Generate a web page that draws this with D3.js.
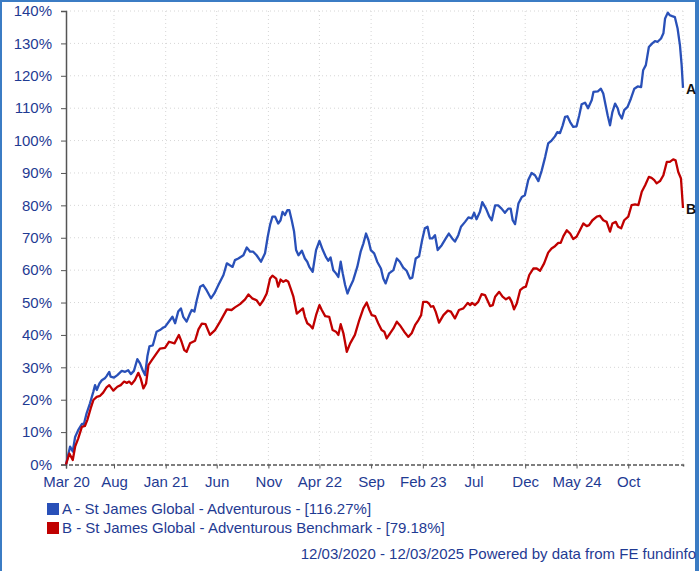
<!DOCTYPE html>
<html>
<head>
<meta charset="utf-8">
<script src="https://cdn.jsdelivr.net/npm/d3@7"></script>
<style>
  body { margin: 0; background: #fff; }
  svg { display: block; font-family: "Liberation Sans", Arial, sans-serif; }
</style>
</head>
<body>
<div id="chart"></div>
<script>
// St James Global - Adventurous (A)
const datesA = ["2020-03-12","2020-03-24","2020-04-01","2020-04-08","2020-04-17","2020-04-28","2020-05-04","2020-05-12","2020-05-22","2020-06-01",
  "2020-06-06","2020-06-11","2020-06-19","2020-06-26","2020-07-05","2020-07-10","2020-07-18","2020-07-22","2020-08-01","2020-08-11",
  "2020-08-24","2020-09-03","2020-09-12","2020-09-20","2020-09-29","2020-10-09","2020-10-17","2020-10-25","2020-11-01","2020-11-08",
  "2020-11-14","2020-11-24","2020-12-05","2020-12-15","2020-12-25","2020-12-30","2021-01-14","2021-01-21","2021-01-29","2021-02-07",
  "2021-02-15","2021-02-22","2021-03-04","2021-03-14","2021-03-19","2021-03-27","2021-04-03","2021-04-13","2021-04-22","2021-05-02",
  "2021-05-15","2021-05-25","2021-06-06","2021-06-21","2021-07-01","2021-07-10","2021-07-18","2021-07-25","2021-08-04","2021-08-19",
  "2021-08-29","2021-09-08","2021-09-17","2021-09-27","2021-10-10","2021-10-22","2021-10-30","2021-11-06","2021-11-13","2021-11-21",
  "2021-11-30","2021-12-07","2021-12-13","2021-12-20","2021-12-27","2022-01-02","2022-01-09","2022-01-16","2022-01-22","2022-01-29",
  "2022-02-08","2022-02-17","2022-02-24","2022-03-02","2022-03-12","2022-03-22","2022-04-01","2022-04-11","2022-04-20","2022-04-27",
  "2022-05-04","2022-05-12","2022-05-20","2022-05-27","2022-06-03","2022-06-09","2022-06-16","2022-06-23","2022-07-01","2022-07-10",
  "2022-07-22","2022-08-01","2022-08-09","2022-08-17","2022-08-24","2022-08-31","2022-09-10","2022-09-19","2022-09-30","2022-10-07",
  "2022-10-14","2022-10-24","2022-11-06","2022-11-16","2022-11-25","2022-12-05","2022-12-15","2022-12-25","2023-01-01","2023-01-11",
  "2023-01-21","2023-01-30","2023-02-07","2023-02-15","2023-02-22","2023-03-01","2023-03-09","2023-03-17","2023-03-29","2023-04-10",
  "2023-04-19","2023-04-29","2023-05-07","2023-05-17","2023-05-25","2023-06-06","2023-06-16","2023-06-26","2023-07-03","2023-07-10",
  "2023-07-20","2023-07-27","2023-08-07","2023-08-17","2023-08-24","2023-09-03","2023-09-12","2023-09-22","2023-10-02","2023-10-12",
  "2023-10-19","2023-10-25","2023-11-01","2023-11-11","2023-11-21","2023-11-30","2023-12-10","2023-12-20","2023-12-30","2024-01-09",
  "2024-01-19","2024-01-29","2024-02-07","2024-02-17","2024-02-27","2024-03-05","2024-03-13","2024-03-21","2024-03-28","2024-04-04",
  "2024-04-12","2024-04-21","2024-05-01","2024-05-09","2024-05-16","2024-05-26","2024-06-04","2024-06-15","2024-06-20","2024-07-03",
  "2024-07-12","2024-07-19","2024-07-26","2024-08-01","2024-08-08","2024-08-15","2024-08-23","2024-08-31","2024-09-04","2024-09-12",
  "2024-09-19","2024-09-29","2024-10-09","2024-10-19","2024-10-29","2024-11-08","2024-11-14","2024-11-22","2024-12-01","2024-12-11",
  "2024-12-19","2024-12-27","2025-01-06","2025-01-13","2025-01-18","2025-01-26","2025-02-01","2025-02-08","2025-02-16","2025-02-24",
  "2025-03-03","2025-03-08","2025-03-12"];
const valuesA = [0,5.5,4,8.5,10.6,12.5,12.5,15.8,18.9,22.5,
  24.5,23,25,26,26.6,27.3,28.6,27.1,26.8,27.6,
  28.9,28.6,29.1,27.9,28.9,32.5,31.2,29.1,27.6,33.5,
  36.5,36.8,41,41.5,42.3,42.5,44.6,45.6,43.6,47.2,
  48.2,45.6,44.1,46.6,47.7,47.2,50.7,54.9,55.4,53.8,
  51.3,52.8,55.4,58.5,62.1,61.5,61,63.1,63.6,64.6,
  67,65.7,65.7,64.6,62.6,65.2,70.3,74,76.5,76.5,
  74.4,75.4,78,77,78.5,78.5,75.4,71.9,66.2,64.6,
  66,63.6,62.6,61,59.5,66.2,69,66.2,64.1,62.9,
  63.9,60,59,57.9,62.6,59,55.4,52.8,54.9,56.9,
  61,65.7,68.2,71.3,69.3,66.2,65.2,62.6,60.5,57.4,
  55.9,59,60,63.6,62.6,60.8,59.8,57.4,57.7,63.6,
  64.3,69.3,72.9,73.4,69.8,69.8,70.8,66.2,67.7,69.8,
  71.3,69.8,68.8,70.8,73.4,74.9,76.3,76,77.7,75.7,
  78,81,79,76.5,75.4,80,80,79,77.7,79,
  79,75.4,74.2,80.6,82.6,83.1,87.8,90,89.3,87.5,
  90.8,94.9,99.1,100,101.3,102.6,102.3,104.7,107.3,107.5,
  105.7,104.2,104.4,107.8,111.2,111.7,110,112.5,115,115.2,
  116,114.5,110.9,107.8,104.7,108.8,111.4,109.9,108.3,106.8,
  109.4,110.4,113,116,116.7,116.5,121.7,123.3,128.9,130,
  130.7,130.5,131.5,133.1,137.7,139.5,138.7,138.4,138.1,134.6,
  129.4,123.3,116.27];

// St James Global - Adventurous Benchmark (B)
const datesB = ["2020-03-12","2020-03-22","2020-04-01","2020-04-08","2020-04-17","2020-04-28","2020-05-07","2020-05-14","2020-05-24","2020-06-01",
  "2020-06-11","2020-06-21","2020-06-30","2020-07-10","2020-07-18","2020-07-30","2020-08-11","2020-08-21","2020-08-31","2020-09-08",
  "2020-09-15","2020-09-22","2020-10-02","2020-10-12","2020-10-19","2020-10-27","2020-11-04","2020-11-11","2020-11-21","2020-12-05",
  "2020-12-15","2020-12-30","2021-01-11","2021-01-27","2021-02-09","2021-02-17","2021-02-25","2021-03-04","2021-03-14","2021-03-29",
  "2021-04-08","2021-04-18","2021-04-29","2021-05-12","2021-05-27","2021-06-11","2021-07-01","2021-07-15","2021-07-25","2021-08-09",
  "2021-08-24","2021-09-03","2021-09-14","2021-09-27","2021-10-07","2021-10-17","2021-10-27","2021-11-06","2021-11-13","2021-11-24",
  "2021-11-30","2021-12-07","2021-12-15","2021-12-23","2021-12-30","2022-01-06","2022-01-14","2022-01-24","2022-01-31","2022-02-11",
  "2022-02-17","2022-02-24","2022-03-04","2022-03-12","2022-03-22","2022-04-01","2022-04-08","2022-04-18","2022-04-30","2022-05-10",
  "2022-05-20","2022-05-27","2022-06-03","2022-06-11","2022-06-21","2022-07-01","2022-07-15","2022-07-28","2022-08-09","2022-08-19",
  "2022-08-27","2022-09-03","2022-09-13","2022-09-22","2022-10-02","2022-10-10","2022-10-17","2022-10-27","2022-11-06","2022-11-16",
  "2022-11-25","2022-12-08","2022-12-20","2022-12-30","2023-01-09","2023-01-19","2023-01-27","2023-02-02","2023-02-13","2023-02-19",
  "2023-02-25","2023-03-04","2023-03-11","2023-03-21","2023-04-03","2023-04-16","2023-04-25","2023-05-07","2023-05-19","2023-06-01",
  "2023-06-14","2023-06-21","2023-06-27","2023-07-05","2023-07-15","2023-07-25","2023-08-04","2023-08-19","2023-08-27","2023-09-03",
  "2023-09-15","2023-09-25","2023-10-05","2023-10-15","2023-10-22","2023-10-29","2023-11-06","2023-11-16","2023-11-25","2023-12-03",
  "2023-12-13","2023-12-25","2024-01-04","2024-01-14","2024-01-26","2024-02-07","2024-02-17","2024-02-27","2024-03-08","2024-03-15",
  "2024-03-23","2024-04-02","2024-04-12","2024-04-21","2024-05-01","2024-05-11","2024-05-21","2024-05-31","2024-06-07","2024-06-17",
  "2024-06-30","2024-07-09","2024-07-19","2024-07-29","2024-08-08","2024-08-15","2024-08-25","2024-09-01","2024-09-10","2024-09-19",
  "2024-10-01","2024-10-11","2024-10-21","2024-10-31","2024-11-10","2024-11-20","2024-12-01","2024-12-09","2024-12-17","2024-12-24",
  "2025-01-03","2025-01-13","2025-01-23","2025-02-01","2025-02-11","2025-02-18","2025-02-26","2025-03-06","2025-03-12"];
const valuesB = [0,3.4,1.4,5.5,8,11.6,11.9,13.7,17.3,19.9,
  20.9,21.2,22.2,23.8,24.5,22.8,24,24.5,25.6,25.2,
  25.6,24.8,26.1,28.3,26.6,23.5,25,30.7,32.2,34.3,
  35.8,36,37.9,37.4,40,37.9,35.3,34.8,37.4,38.2,
  41.7,43.5,43.3,40,41.5,44.1,47.9,47.7,48.5,49.5,
  51,52.5,51.3,50.7,49.2,50.7,52.8,57.4,58.3,57.4,
  54.9,57.1,56.4,56.9,56.4,54.3,51.8,46.6,47.2,48.2,
  45.6,43.6,43,42,46.1,49.2,47.7,45.8,45.6,41.5,
  41,40,43.3,40.5,34.8,37.4,40,44.6,48.2,50,
  47.7,46.1,45.8,43.6,41.5,41,38.9,40.5,42,44.1,
  43,41,39.4,40.5,43,44.6,46.1,50.2,50.2,49.7,
  48.7,48.9,47.2,43.8,46.1,47.5,47.2,45.1,47.7,48.2,
  49.9,49.2,49.9,49.2,50.2,52.6,52.3,48.9,49.2,51.8,
  53.3,51.8,51,51.6,50.2,47.9,49.7,53.8,54.6,54.9,
  58.5,60.5,60.5,59.8,62.1,65.4,66.7,67.4,68.4,68.4,
  70.5,72.3,71.3,69.6,70.3,72.3,74.4,73.6,73.9,75.4,
  76.5,76.8,75.4,74.9,71.9,74.4,74.9,73.4,72.9,75.4,
  76.5,80.1,80.3,80.1,84.2,86.2,88.8,88.5,87.8,86.8,
  87.5,89.3,93.4,93.4,94.2,93.9,90.3,88.3,79.18];

const tickDates = ["2020-03-12","2020-08-01","2021-01-01","2021-06-01","2021-11-01","2022-04-01",
  "2022-09-01","2023-02-01","2023-07-01","2023-12-01","2024-05-01","2024-10-01"];
const tickLabels = ["Mar 20","Aug","Jan 21","Jun","Nov","Apr 22","Sep","Feb 23","Jul","Dec","May 24","Oct"];
const yTicks = [0,10,20,30,40,50,60,70,80,90,100,110,120,130,140];
const seriesNames = ["A","B"];
const legendLabels = ["A - St James Global - Adventurous - [116.27%]",
  "B - St James Global - Adventurous Benchmark - [79.18%]"];
const footerText = "12/03/2020 - 12/03/2025 Powered by data from FE fundinfo";

let width = 699,
    height = 571,
    margin = ({ top: 11, right: 16, bottom: 106.5, left: 66 });

const textColor = "#1f3b93";
const colors = ["#2950b8", "#c00000"];
const fontSize = 15;
const parse = d3.timeParse("%Y-%m-%d");

const svg = d3.select("#chart")
  .append("svg")
  .attr("width", width)
  .attr("height", height);

// frame
svg.append("rect").attr("x", 0).attr("y", 0).attr("width", 2).attr("height", height).attr("fill", "#3b7cc4");
svg.append("rect").attr("x", 0).attr("y", 0).attr("width", width).attr("height", 2).attr("fill", "#3b7cc4");
svg.append("rect").attr("x", 695).attr("y", 0).attr("width", 4).attr("height", height).attr("fill", "#3b7cc4");

let x = d3.scaleTime()
  .domain([parse("2020-03-12"), parse("2025-03-12")])
  .range([margin.left, width - margin.right]);

let y = d3.scaleLinear()
  .domain([0, 140])
  .range([height - margin.bottom, margin.top]);

// grid
let grid = svg.append("g")
  .attr("stroke", "#d6d6d6")
  .attr("stroke-dasharray", "1,3");

grid.selectAll(".hgrid")
  .data(yTicks.filter(d => d > 0))
  .join("line")
  .attr("x1", margin.left).attr("x2", width - margin.right)
  .attr("y1", d => y(d)).attr("y2", d => y(d));

grid.selectAll(".vgrid")
  .data(tickDates.slice(1).map(parse).concat([x.domain()[1]]))
  .join("line")
  .attr("x1", d => x(d)).attr("x2", d => x(d))
  .attr("y1", margin.top).attr("y2", height - margin.bottom);

// y axis
let yAxis = svg.append("g")
  .attr("transform", `translate(${margin.left},0)`)
  .call(d3.axisLeft(y).tickValues(yTicks).tickSize(5).tickPadding(9).tickFormat(d => d + "%"));
yAxis.select(".domain").attr("stroke", "#555").attr("stroke-width", 1.5);
yAxis.selectAll(".tick line").attr("stroke", "#555");
yAxis.selectAll("text")
  .attr("fill", textColor)
  .attr("font-size", fontSize)
  .attr("font-family", "Liberation Sans, Arial, sans-serif");

// x axis
let xAxis = svg.append("g")
  .attr("transform", `translate(0,${height - margin.bottom})`)
  .call(d3.axisBottom(x)
    .tickValues(tickDates.map(parse))
    .tickSize(4)
    .tickPadding(8)
    .tickFormat((d, i) => tickLabels[i]));
xAxis.select(".domain").attr("stroke", "#555").attr("stroke-width", 1.5).attr("stroke-dasharray", "4,2");
xAxis.selectAll(".tick line").attr("stroke", "#555");
xAxis.selectAll("text")
  .attr("fill", textColor)
  .attr("font-size", fontSize)
  .attr("font-family", "Liberation Sans, Arial, sans-serif");

// lines
let line = d3.line()
  .x(d => x(d.date))
  .y(d => y(d.value));

let series = [
  datesA.map((d, i) => ({ date: parse(d), value: valuesA[i] })),
  datesB.map((d, i) => ({ date: parse(d), value: valuesB[i] }))
];

series.forEach((data, i) => {
  svg.append("path")
    .datum(data)
    .attr("fill", "none")
    .attr("stroke", colors[i])
    .attr("stroke-width", 2.3)
    .attr("stroke-linejoin", "round")
    .attr("d", line);

  let last = data[data.length - 1];
  svg.append("text")
    .text(seriesNames[i])
    .attr("x", x(last.date) + 3)
    .attr("y", y(last.value) + 2)
    .attr("dominant-baseline", "middle")
    .attr("font-weight", "bold")
    .attr("font-size", 14)
    .attr("fill", "#111");
});

// legend
let legend = svg.append("g");
legendLabels.forEach((label, i) => {
  legend.append("rect")
    .attr("x", 47).attr("y", 503 + i * 19)
    .attr("width", 12).attr("height", 12)
    .attr("fill", colors[i]);
  legend.append("text")
    .text(label)
    .attr("x", 62).attr("y", 514 + i * 19)
    .attr("font-size", fontSize)
    .attr("fill", textColor);
});

svg.append("text")
  .text(footerText)
  .attr("x", 696).attr("y", 559)
  .attr("text-anchor", "end")
  .attr("font-size", fontSize)
  .attr("fill", textColor);
</script>
</body>
</html>
